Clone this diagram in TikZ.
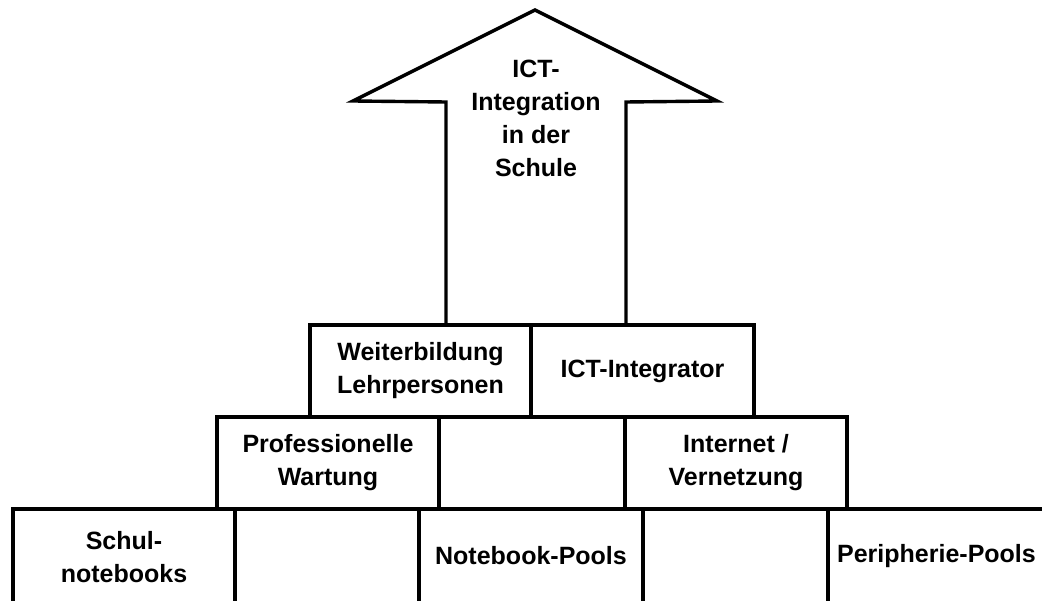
\documentclass[tikz,border=0pt]{standalone}
\usepackage{fontspec}
\setmainfont{Liberation Sans}
\begin{document}
\begin{tikzpicture}[x=1pt,y=-1pt,
  line width=3.4pt, line join=miter,
  lbl/.style={font=\bfseries\fontsize{25}{33}\selectfont, align=center, inner sep=0pt},
  box/.style={draw, lbl, minimum height=92pt}]
\clip (0,0) rectangle (1042,601);
\fill[white] (0,0) rectangle (1042,601);
% arrow
\coordinate (aL) at (446,325);
\coordinate (aR) at (626,325);
\draw (aL) -- (446,102) -- (353,101) -- (535,10) -- (717,101) -- (626,102) -- (aR);
\node[lbl] (arrowtxt) at (536,118) {ICT-\\Integration\\in der\\Schule};
% row 3
\node[box, minimum width=221pt] (weiter) at (420.5,371) {Weiterbildung\\Lehrpersonen};
\node[box, minimum width=223pt] (ictint) at (642.5,371) {ICT-Integrator};
% row 2
\node[box, minimum width=222pt] (wartung) at (328,463) {Professionelle\\Wartung};
\node[box, minimum width=186pt] (leer2) at (532,463) {};
\node[box, minimum width=222pt] (netz) at (736,463) {Internet /\\Vernetzung};
% row 1 (cut off at the bottom)
\draw (13,640) -- (13,509) -- (1060,509);
\foreach \xx in {235,419,643,828} \draw (\xx,509) -- (\xx,640);
\node[lbl] (schul) at (124,557) {Schul-\\notebooks};
\node[lbl] (nbpools) at (531,556) {Notebook-Pools};
\node[lbl] (peri) at (936.5,556) {Peripherie-Pools};
\end{tikzpicture}
\end{document}
